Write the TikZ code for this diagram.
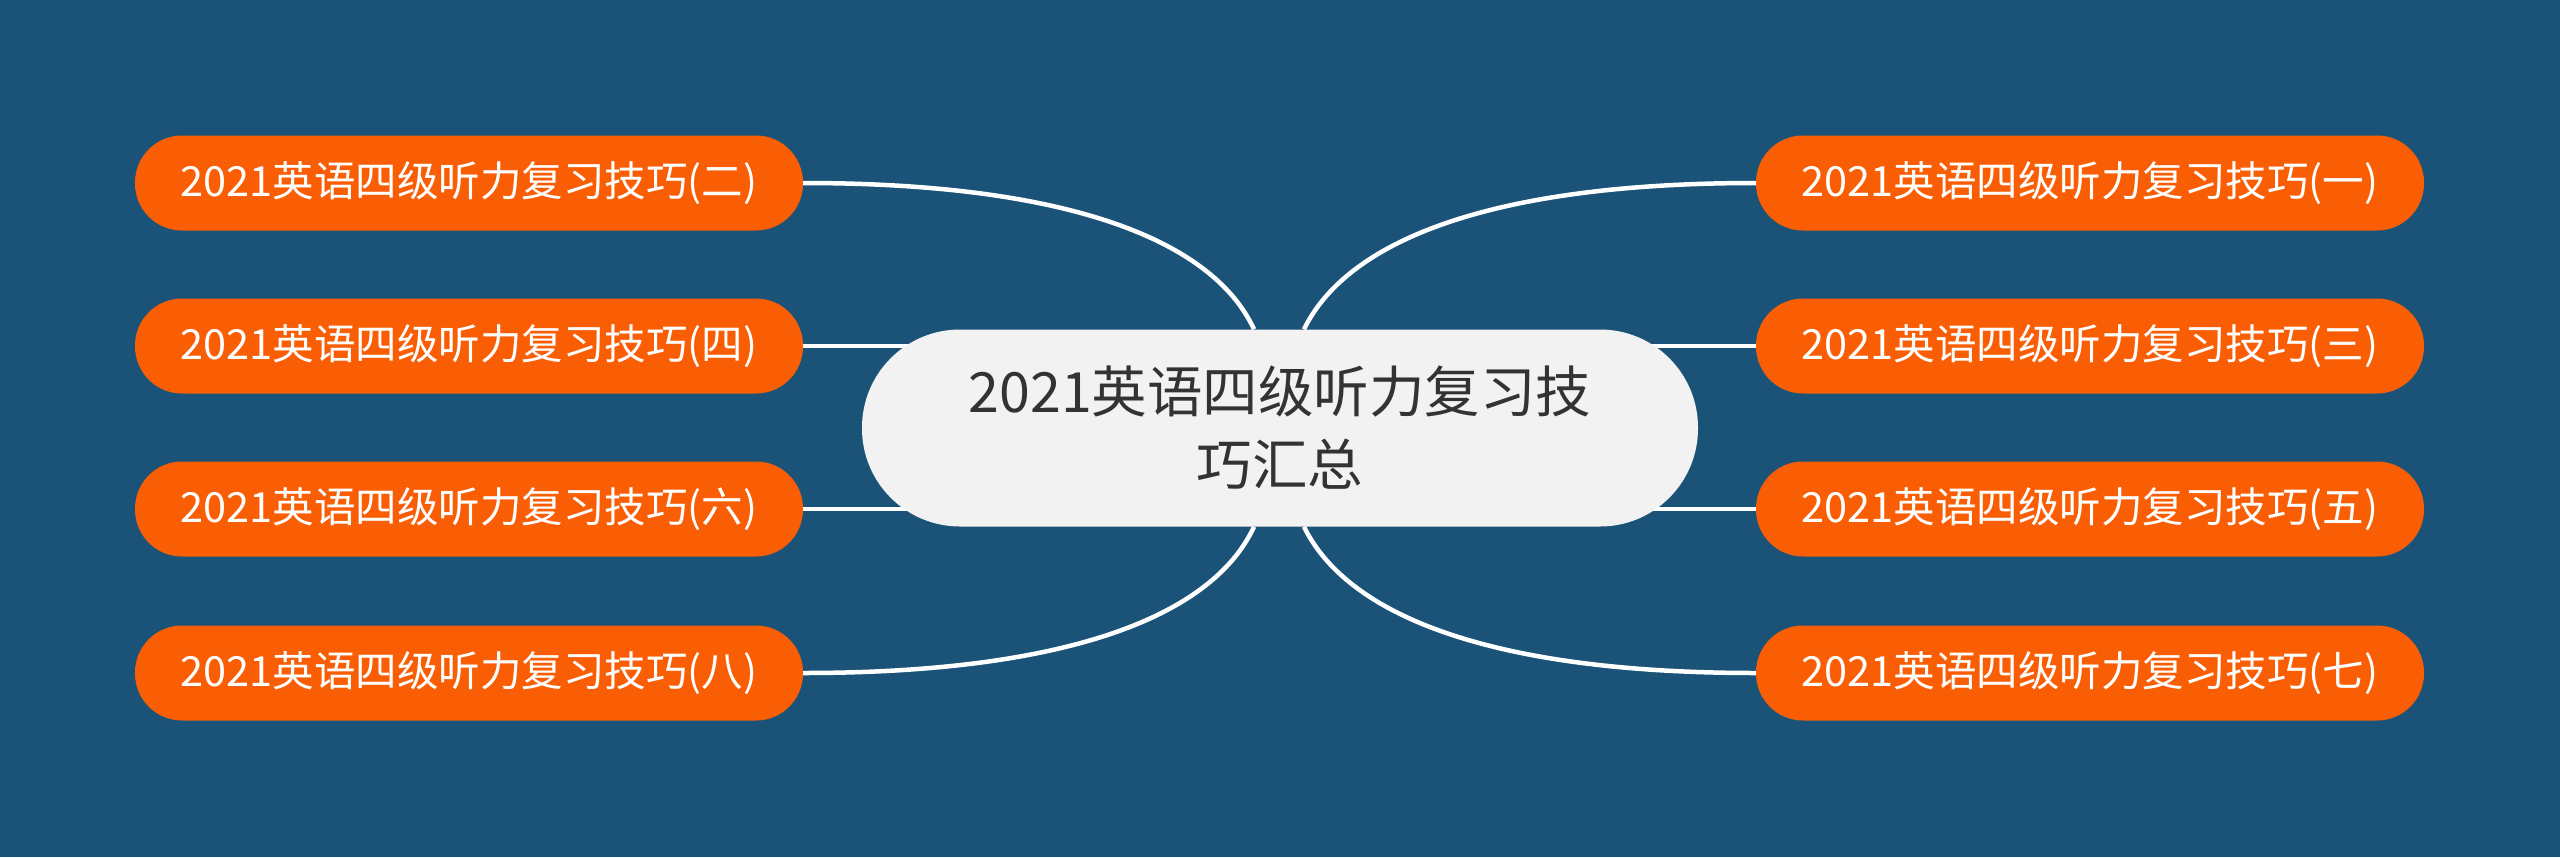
\documentclass[tikz,border=0pt]{standalone}
\usepackage{fontspec}
\setmainfont{Noto Sans CJK SC}
\usetikzlibrary{backgrounds}
\definecolor{bgblue}{RGB}{26,83,119}
\definecolor{branchorange}{RGB}{250,94,5}
\definecolor{rootgray}{RGB}{242,242,242}
\definecolor{roottext}{RGB}{51,51,51}
\tikzstyle{root} = [rectangle, rounded corners=98pt, minimum width=836pt, minimum height=197pt, text centered, fill=rootgray, text=roottext, font=\fontsize{55.5}{73}\selectfont, align=center]
\tikzstyle{branch} = [rectangle, rounded corners=47pt, minimum width=668pt, minimum height=95pt, text centered, fill=branchorange, text=white, font=\fontsize{41.5}{48}\selectfont]
\tikzstyle{link} = [line width=4.5pt, white]

\begin{document}
\begin{tikzpicture}[x=1pt, y=-1pt]
    \node (root) [root] at (1280,428) {2021英语四级听力复习技\\巧汇总};
    \node (sub2) [branch] at (469,183) {2021英语四级听力复习技巧(二)};
    \node (sub4) [branch] at (469,346) {2021英语四级听力复习技巧(四)};
    \node (sub6) [branch] at (469,509) {2021英语四级听力复习技巧(六)};
    \node (sub8) [branch] at (469,673) {2021英语四级听力复习技巧(八)};
    \node (sub1) [branch] at (2090,183) {2021英语四级听力复习技巧(一)};
    \node (sub3) [branch] at (2090,346) {2021英语四级听力复习技巧(三)};
    \node (sub5) [branch] at (2090,509) {2021英语四级听力复习技巧(五)};
    \node (sub7) [branch] at (2090,673) {2021英语四级听力复习技巧(七)};

    \coordinate (topl) at ([xshift=-26pt]root.north);
    \coordinate (topr) at ([xshift=24pt]root.north);
    \coordinate (botl) at ([xshift=-26pt]root.south);
    \coordinate (botr) at ([xshift=24pt]root.south);

    \begin{pgfonlayer}{background}
    \fill [bgblue] (0,0) rectangle (2560,857);
    \draw [link] (sub2.east) .. controls (1080,183) and (1215,245) .. (topl);
    \draw [link] (sub1.west) .. controls (1480,183) and (1345,245) .. (topr);
    \draw [link] (sub8.east) .. controls (1080,673) and (1215,611) .. (botl);
    \draw [link] (sub7.west) .. controls (1480,673) and (1345,611) .. (botr);
    \draw [link] (sub4.east) -- (sub4.east -| root.center);
    \draw [link] (sub6.east) -- (sub6.east -| root.center);
    \draw [link] (sub3.west) -- (sub3.west -| root.center);
    \draw [link] (sub5.west) -- (sub5.west -| root.center);
    \end{pgfonlayer}
  \end{tikzpicture}
\end{document}
